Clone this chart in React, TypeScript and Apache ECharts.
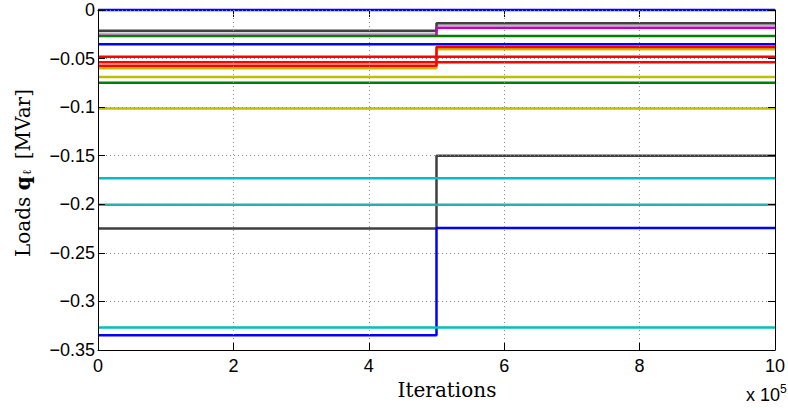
import React, { useEffect, useRef } from "react";
import * as echarts from "echarts";

// Iteration at which the loads switch, and the span of the run
const iterations = [0, 500000, 1000000];
// Load values before and after the switch (MVar)
const loadsBefore = [0, -0.024, -0.0213, -0.0265, -0.0268, -0.0353, -0.06, -0.0575, -0.048, -0.0539, -0.069, -0.0749, -0.1015, -0.2248, -0.1733, -0.2005, -0.3347, -0.3268];
const loadsAfter = [0, -0.0158, -0.0137, -0.0182, -0.0268, -0.0353, -0.0405, -0.038, -0.048, -0.0539, -0.069, -0.0749, -0.1015, -0.15, -0.1733, -0.2005, -0.2245, -0.3268];
const loadColors = ["#0000ff", "#b8b8b8", "#404040", "#bf00bf", "#008000", "#0000ff", "#bfbf00", "#ff0000", "#ff0000", "#ff0000", "#bfbf00", "#008000", "#bfbf00", "#404040", "#00bfbf", "#00bfbf", "#0000ff", "#00bfbf"];
const xTicks = [0, 2, 4, 6, 8, 10];
const yTicks = [0, -0.05, -0.1, -0.15, -0.2, -0.25, -0.3, -0.35];

const SANS = "'Liberation Sans', Arial, sans-serif";
const SERIF = "'DejaVu Serif', serif";

export default function App() {
  const ref = useRef<HTMLDivElement>(null);
  useEffect(() => {
    if (!ref.current) return;
    const chart = echarts.init(ref.current, undefined, { renderer: "svg" });
    const yFmt = (v: number) => {
      const r = Math.round(v * 100) / 100;
      if (r === 0) return "0";
      return "\u2212" + String(Math.abs(r));
    };
    const xMin = xTicks[0] * 1e5;
    const xMax = xTicks[xTicks.length - 1] * 1e5;
    const xInt = (xTicks[1] - xTicks[0]) * 1e5;
    const yMin = yTicks[yTicks.length - 1];
    const yMax = yTicks[0];
    const yInt = 0.05;
    const tickStyle = { show: true, inside: true, length: 7, lineStyle: { color: "#000", width: 1 } };
    const axisLineStyle = { show: true, onZero: false, lineStyle: { color: "#000", width: 1 } };
    const split = { show: true, lineStyle: { color: "#8a8a8a", type: [1, 3] as any, width: 1 } };
    const series = loadsBefore.map((v, i) => ({
      type: "line",
      step: "end",
      symbol: "none",
      clip: false,
      z: 2,
      lineStyle: { color: loadColors[i], width: i === 1 ? 1.5 : 2.5 },
      itemStyle: { color: loadColors[i] },
      data: [
        [iterations[0], v],
        [iterations[1], loadsAfter[i]],
        [iterations[2], loadsAfter[i]],
      ],
    }));
    chart.setOption({
      animation: false,
      backgroundColor: "#fff",
      grid: { left: 98, right: 10, top: 10, bottom: 60, containLabel: false },
      xAxis: [
        {
          type: "value",
          min: xMin,
          max: xMax,
          interval: xInt,
          z: 4,
          axisLine: axisLineStyle,
          axisTick: tickStyle,
          splitLine: split,
          axisLabel: {
            margin: 7,
            color: "#000",
            fontFamily: SANS,
            fontSize: 18,
            formatter: (v: number) => String(Math.round(v / 1e5)),
          },
        },
        {
          type: "value",
          position: "top",
          min: xMin,
          max: xMax,
          interval: xInt,
          z: 1,
          axisLine: axisLineStyle,
          axisTick: tickStyle,
          splitLine: { show: false },
          axisLabel: { show: false },
        },
      ],
      yAxis: [
        {
          type: "value",
          min: yMin,
          max: yMax,
          interval: yInt,
          z: 4,
          axisLine: axisLineStyle,
          axisTick: tickStyle,
          splitLine: split,
          axisLabel: {
            margin: 3,
            color: "#000",
            fontFamily: SANS,
            fontSize: 18,
            formatter: yFmt,
          },
        },
        {
          type: "value",
          position: "right",
          min: yMin,
          max: yMax,
          interval: yInt,
          z: 4,
          axisLine: axisLineStyle,
          axisTick: tickStyle,
          splitLine: { show: false },
          axisLabel: { show: false },
        },
      ],
      graphic: [
        {
          type: "text",
          x: 447,
          y: 390,
          style: {
            text: "Iterations",
            fill: "#000",
            font: `20px ${SERIF}`,
            align: "center",
            verticalAlign: "middle",
          },
        },
        {
          type: "text",
          x: 21,
          y: 173,
          rotation: Math.PI / 2,
          style: {
            text: "{n|Loads }{q|q}{s|\u2113}{n| [MVar]}",
            fill: "#000",
            align: "center",
            verticalAlign: "middle",
            rich: {
              n: { fontFamily: SERIF, fontSize: 20, fill: "#000", lineHeight: 24, verticalAlign: "bottom" },
              q: { fontFamily: SERIF, fontSize: 20, fontWeight: "bold", fill: "#000", lineHeight: 24, verticalAlign: "bottom" },
              s: { fontFamily: SERIF, fontSize: 12, fill: "#000", lineHeight: 18, verticalAlign: "bottom", padding: [0, 4, 0, 1] },
            },
          },
        },
        {
          type: "text",
          x: 780,
          y: 404,
          style: {
            text: "x 10",
            fill: "#000",
            font: `18px ${SANS}`,
            align: "right",
            verticalAlign: "bottom",
          },
        },
        {
          type: "text",
          x: 780,
          y: 383,
          style: {
            text: "5",
            fill: "#000",
            font: `12px ${SANS}`,
            align: "left",
            verticalAlign: "top",
          },
        },
      ],
      series,
    });
    return () => chart.dispose();
  }, []);
  return <div ref={ref} style={{ width: 788, height: 410, position: "absolute", left: 0, top: 0 }} />;
}
